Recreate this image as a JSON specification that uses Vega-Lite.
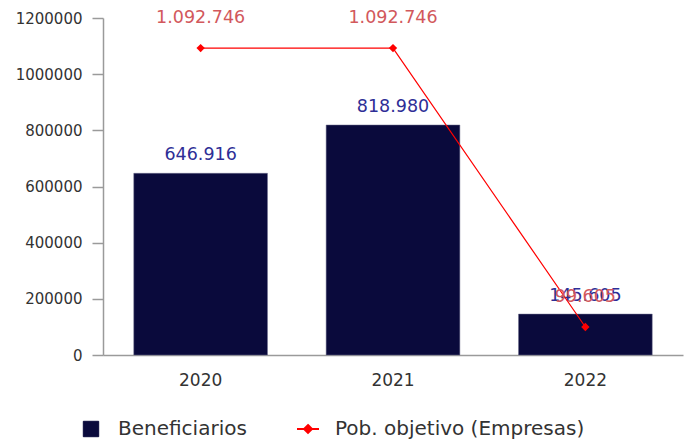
{
  "$schema": "https://vega.github.io/schema/vega-lite/v6.json",
  "autosize": {"type": "none"},
  "width": 580,
  "height": 337,
  "padding": {"left": 103, "top": 18, "right": 5, "bottom": 87},
  "background": "white",
  "config": {
    "font": "DejaVu Sans",
    "view": {"stroke": null},
    "locale": {"number": {"decimal": ",", "thousands": ".", "grouping": [3], "currency": ["", ""]}}
  },
  "data": {
    "values": [
      {"year": "2020", "beneficiarios": 646916, "pob": 1092746},
      {"year": "2021", "beneficiarios": 818980, "pob": 1092746},
      {"year": "2022", "beneficiarios": 145605, "pob": 99605}
    ]
  },
  "encoding": {
    "x": {
      "field": "year", "type": "nominal",
      "scale": {"paddingInner": 0.305, "paddingOuter": 0.16},
      "axis": {"title": null, "labelAngle": 0, "ticks": false, "tickSize": 0, "labelPadding": 17, "labelFontSize": 17, "labelColor": "#333333", "domainColor": "#9a9a9a", "domainWidth": 1.5}
    }
  },
  "layer": [
    {
      "mark": {"type": "bar", "stroke": "#6a6a8a", "strokeWidth": 0.5},
      "encoding": {
        "y": {
          "field": "beneficiarios", "type": "quantitative",
          "scale": {"domain": [0, 1200000], "nice": false},
          "axis": {
            "title": null, "grid": false,
            "values": [0, 100000, 200000, 300000, 400000, 500000, 600000, 700000, 800000, 900000, 1000000, 1100000, 1200000],
            "format": "d",
            "labelExpr": "datum.value % 200000 === 0 ? datum.label : ''",
            "tickSize": 11, "labelPadding": 10, "labelFontSize": 15, "labelColor": "#333333",
            "domainColor": "#9a9a9a", "tickColor": "#9a9a9a", "domainWidth": 1.5, "tickWidth": 1.5
          }
        },
        "color": {
          "datum": "Beneficiarios",
          "scale": {"domain": ["Beneficiarios", "Pob. objetivo (Empresas)"], "range": ["#0a0a3c", "#ff0000"]},
          "legend": {
            "title": null, "orient": "none", "direction": "horizontal",
            "legendX": -22, "legendY": 401,
            "labelFontSize": 20, "labelColor": "#333333", "labelOffset": 17, "columnPadding": 46, "labelLimit": 500,
            "symbolSize": 484,
            "symbolOpacity": 1,
            "symbolType": {"expr": "datum.value === 'Beneficiarios' ? 'M-0.7,-0.7H0.7V0.7H-0.7Z' : 'M-1,0H1M0,-0.36L0.36,0L0,0.36L-0.36,0Z'"},
            "symbolStrokeColor": {"expr": "datum.value === 'Beneficiarios' ? '#8a8a9a' : '#ff0000'"},
            "symbolStrokeWidth": {"expr": "datum.value === 'Beneficiarios' ? 1 : 2"}
          }
        }
      }
    },
    {
      "mark": {"type": "text", "dy": -18, "fontSize": 17.5, "color": "#2e2e96"},
      "encoding": {
        "y": {"field": "beneficiarios", "type": "quantitative"},
        "text": {"field": "beneficiarios", "type": "quantitative", "format": ",d"}
      }
    },
    {
      "mark": {"type": "line", "strokeWidth": 1.2, "point": {"shape": "diamond", "filled": true, "size": 70, "color": "#ff0000"}},
      "encoding": {
        "y": {"field": "pob", "type": "quantitative"},
        "color": {"datum": "Pob. objetivo (Empresas)", "legend": null}
      }
    },
    {
      "mark": {"type": "text", "dy": -30, "fontSize": 17.5, "color": "#d2585c"},
      "encoding": {
        "y": {"field": "pob", "type": "quantitative"},
        "text": {"field": "pob", "type": "quantitative", "format": ",d"}
      }
    }
  ]
}
